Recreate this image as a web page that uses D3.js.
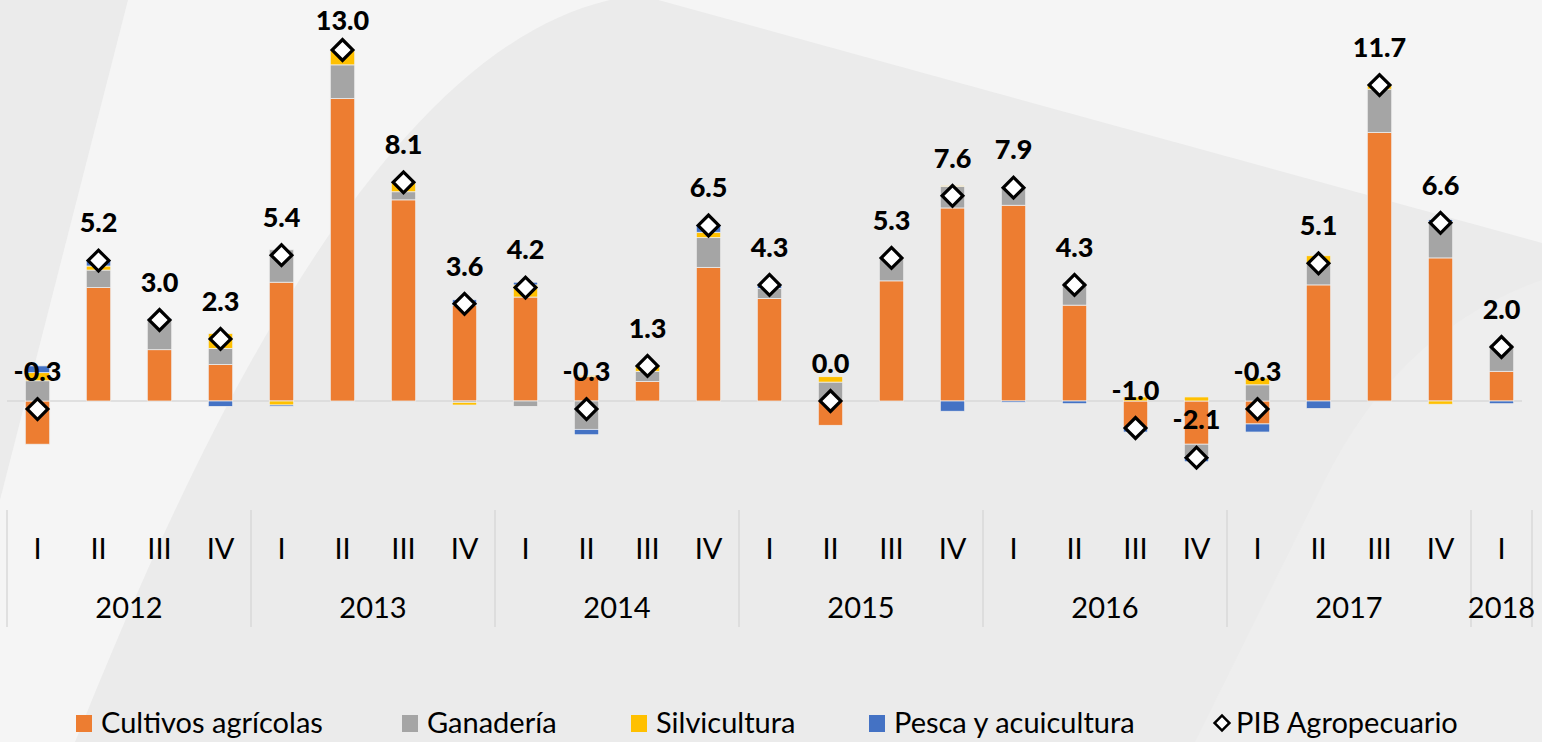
<!DOCTYPE html>
<html>
<head>
<meta charset="utf-8">
<script src="https://cdn.jsdelivr.net/npm/d3@7"></script>
<style>
  body { margin: 0; background: #ebebeb; }
  svg { display: block; font-family: "Gill Sans MT", "Gill Sans", Lato, sans-serif; }
</style>
</head>
<body>
<script>
// quarters 2012-I .. 2018-I
var quarterLabels = ["I","II","III","IV","I","II","III","IV","I","II","III","IV",
                     "I","II","III","IV","I","II","III","IV","I","II","III","IV","I"];
var quarterYears  = ["2012","2012","2012","2012","2013","2013","2013","2013","2014","2014","2014","2014",
                     "2015","2015","2015","2015","2016","2016","2016","2016","2017","2017","2017","2017","2018"];
var years = ["2012","2013","2014","2015","2016","2017","2018"];

var cultivos     = [-1.6, 4.2, 1.9, 1.35, 4.4, 11.2, 7.45, 3.55, 3.85, 0.9, 0.72, 4.95, 3.8, -0.9, 4.45, 7.15, 7.25, 3.55, -1.0, -1.6, -0.85, 4.3, 9.95, 5.3, 1.1];
var ganaderia    = [0.75, 0.65, 1.1, 0.6, 1.2, 1.25, 0.3, -0.05, -0.2, -1.05, 0.38, 1.1, 0.37, 0.7, 0.85, 0.8, 0.7, 0.85, 0.0, -0.45, 0.6, 0.8, 1.6, 1.35, 1.0];
var silvicultura = [0.3, 0.15, 0.0, 0.55, -0.15, 0.55, 0.35, -0.1, 0.45, 0.05, 0.2, 0.2, 0.0, 0.2, 0.0, 0.03, 0.0, 0.0, 0.15, 0.15, 0.25, 0.28, 0.15, -0.12, 0.0];
var pesca        = [0.25, 0.2, 0.05, -0.2, -0.05, 0.0, 0.0, 0.2, 0.1, -0.2, 0.0, 0.25, 0.13, 0.0, 0.0, -0.38, -0.05, -0.1, -0.15, -0.2, -0.3, -0.28, 0.0, 0.07, -0.1];
var pib          = [-0.3, 5.2, 3.0, 2.3, 5.4, 13.0, 8.1, 3.6, 4.2, -0.3, 1.3, 6.5, 4.3, 0.0, 5.3, 7.6, 7.9, 4.3, -1.0, -2.1, -0.3, 5.1, 11.7, 6.6, 2.0];

var seriesNames  = ["Cultivos agrícolas", "Ganadería", "Silvicultura", "Pesca y acuicultura"];
var seriesColors = ["#ED7D31", "#A5A5A5", "#FFC000", "#4472C4"];

function init(){
    var w = 1542, h = 742;

    var svg = d3.select("body").append("svg")
        .attr("width", w)
        .attr("height", h);

    // background shapes
    svg.append("rect").attr("width", w).attr("height", h).attr("fill", "#f5f5f5");
    svg.append("path").attr("d", "M0,0 L128,0 L0,500 Z").attr("fill", "#ebebeb");
    svg.append("path")
        .attr("d", "M75,742 C195,442 390,20 640,-5 L1542,243 L1542,742 Z")
        .attr("fill", "#ebebeb");
    svg.append("path")
        .attr("d", "M1195,742 L1325,480 Q1400,330 1542,280 L1542,742 Z")
        .attr("fill", "#eeeeee");

    var table = pib.map(function(v, i){
        return { i: i, c: cultivos[i], g: ganaderia[i], s: silvicultura[i], p: pesca[i], pib: v };
    });

    var x = d3.scaleBand()
        .domain(d3.range(table.length))
        .range([7, 1532])
        .paddingInner(0.6)
        .paddingOuter(0.3);

    var y = d3.scaleLinear()
        .domain([-3, 14])
        .range([482, 23]);

    var stack = d3.stack()
        .keys(["c", "g", "s", "p"])
        .offset(d3.stackOffsetDiverging);
    var layers = stack(table);

    // zero line
    svg.append("line")
        .attr("x1", 7).attr("x2", 1522)
        .attr("y1", y(0)).attr("y2", y(0))
        .attr("stroke", "#d9d9d9")
        .attr("stroke-width", 1.5);

    svg.selectAll("g.layer")
        .data(layers)
        .enter()
        .append("g")
        .attr("class", "layer")
        .attr("fill", function(d, k){ return seriesColors[k]; })
        .selectAll("rect")
        .data(function(d){ return d; })
        .enter()
        .append("rect")
        .attr("x", function(d){ return x(d.data.i); })
        .attr("width", x.bandwidth())
        .attr("y", function(d){ return y(Math.max(d[0], d[1])); })
        .attr("height", function(d){ return Math.abs(y(d[0]) - y(d[1])); })
        .attr("stroke", "#efefef")
        .attr("stroke-width", 0.75);

    // PIB markers
    var diamond = d3.symbol().type(d3.symbolSquare).size(215);
    svg.selectAll("path.pib")
        .data(table)
        .enter()
        .append("path")
        .attr("class", "pib")
        .attr("d", diamond)
        .attr("transform", function(d){
            return "translate(" + (x(d.i) + x.bandwidth()/2) + "," + y(d.pib) + ") rotate(45)";
        })
        .attr("fill", "#fff")
        .attr("stroke", "#000")
        .attr("stroke-width", 3.2);

    // data labels (hyphen minus, as in the source)
    var fmt = d3.formatLocale({ decimal: ".", thousands: ",", grouping: [3], currency: ["", ""], minus: "-" }).format(".1f");
    svg.selectAll("text.lbl")
        .data(table)
        .enter()
        .append("text")
        .attr("class", "lbl")
        .attr("x", function(d){ return x(d.i) + x.bandwidth()/2; })
        .attr("y", function(d){ return Math.max(y(d.pib) - 38, 20); })
        .attr("dy", "0.36em")
        .attr("text-anchor", "middle")
        .attr("font-weight", 900)
        .attr("font-size", 27)
        .attr("fill", "#000")
        .text(function(d){ return fmt(d.pib); });

    // quarter axis
    var axis = d3.axisBottom(x)
        .tickSize(0)
        .tickPadding(0)
        .tickFormat(function(i){ return quarterLabels[i]; });
    var gx = svg.append("g")
        .attr("transform", "translate(0,549)")
        .call(axis);
    gx.select(".domain").remove();
    gx.selectAll("text")
        .attr("dy", "0.36em")
        .attr("font-size", 29)
        .attr("font-family", "\"Gill Sans MT\", \"Gill Sans\", Lato, sans-serif")
        .attr("fill", "#000");

    // year groups
    var step = x.step();
    var gapHalf = (step - x.bandwidth()) / 2;
    var groups = years.map(function(yr){
        var idx = d3.range(quarterYears.length).filter(function(i){ return quarterYears[i] === yr; });
        return { year: yr, first: d3.min(idx), last: d3.max(idx) };
    });

    var bounds = groups.map(function(g){ return x(g.first) - gapHalf; });
    bounds.push(x(groups[groups.length-1].last) + x.bandwidth() + gapHalf);

    svg.selectAll("line.div")
        .data(bounds)
        .enter()
        .append("line")
        .attr("class", "div")
        .attr("x1", function(d){ return d; })
        .attr("x2", function(d){ return d; })
        .attr("y1", 510).attr("y2", 627)
        .attr("stroke", "#d9d9d9")
        .attr("stroke-width", 1.5);

    svg.selectAll("text.yr")
        .data(groups)
        .enter()
        .append("text")
        .attr("class", "yr")
        .attr("x", function(g){ return (x(g.first) + x(g.last) + x.bandwidth()) / 2; })
        .attr("y", 608)
        .attr("dy", "0.36em")
        .attr("text-anchor", "middle")
        .attr("font-size", 29)
        .attr("fill", "#000")
        .text(function(g){ return g.year; });

    // legend
    var legendX = [76, 402, 631, 869];
    var leg = svg.append("g").attr("class", "legend");
    seriesNames.forEach(function(name, k){
        leg.append("rect")
            .attr("x", legendX[k]).attr("y", 715)
            .attr("width", 16).attr("height", 17)
            .attr("fill", seriesColors[k]);
        leg.append("text")
            .attr("x", legendX[k] + 25).attr("y", 723)
            .attr("dy", "0.36em")
            .attr("font-size", 29)
            .attr("fill", "#000")
            .text(name);
    });
    leg.append("path")
        .attr("d", d3.symbol().type(d3.symbolSquare).size(110))
        .attr("transform", "translate(1222,723) rotate(45)")
        .attr("fill", "#fff")
        .attr("stroke", "#000")
        .attr("stroke-width", 2.5);
    leg.append("text")
        .attr("x", 1236).attr("y", 723)
        .attr("dy", "0.36em")
        .attr("font-size", 29)
        .attr("fill", "#000")
        .text("PIB Agropecuario");
}

window.onload = init;
</script>
</body>
</html>
